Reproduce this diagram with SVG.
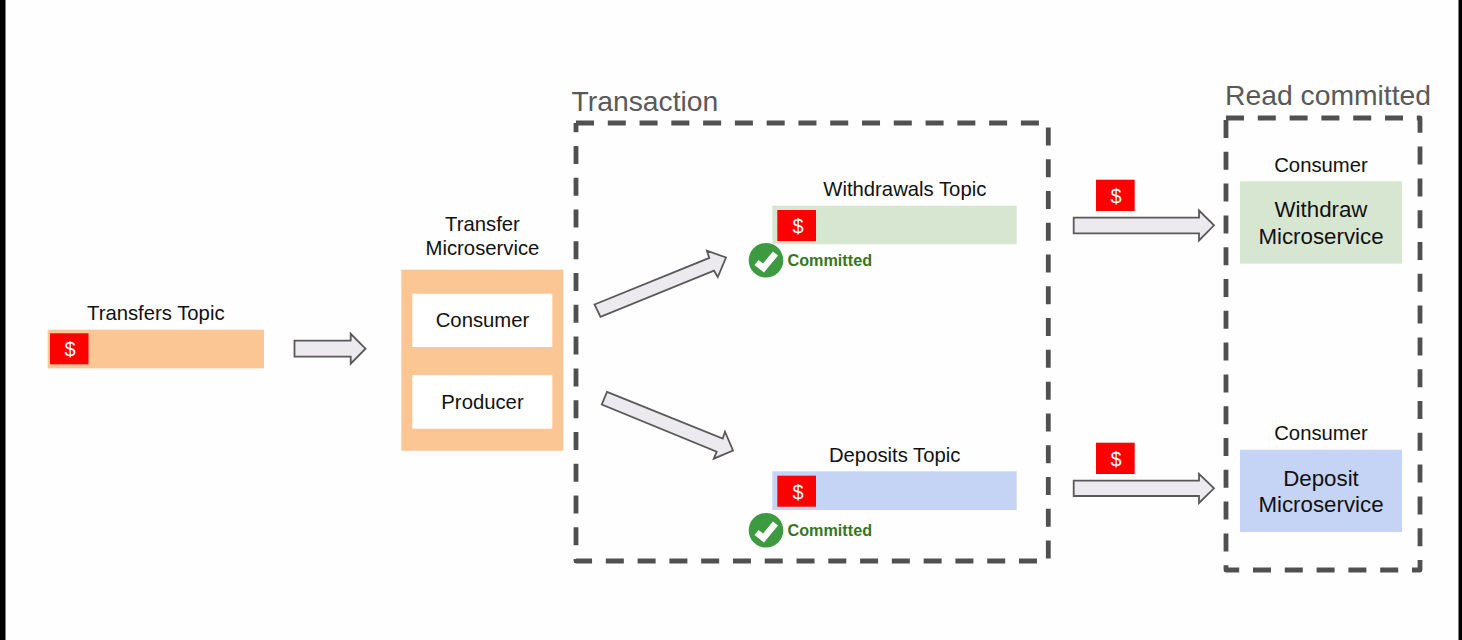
<svg xmlns="http://www.w3.org/2000/svg" width="1462" height="640" viewBox="0 0 1462 640">
<style>
text{font-family:"Liberation Sans",Arial,sans-serif;fill:#111;font-size:20.3px;text-anchor:middle}
.title{font-size:28.300px;fill:#595959;text-anchor:start}
.big{font-size:22.300px}
.ok{font-size:16.200px;font-weight:bold;fill:#38761d;text-anchor:start}
.usd{fill:#fff;font-size:20px}
.chip{fill:#ff0000}
.dash{fill:none;stroke:#505050;stroke-width:4.800;stroke-linejoin:round}
.arrow{fill:#eceaee;stroke:#595959;stroke-width:1.800;stroke-linejoin:miter}
.orange{fill:#fcc594}.green{fill:#d7e6d1}.blue{fill:#c5d4f5}
.tick{fill:none;stroke:#fff;stroke-width:6.500}
</style>
<rect width="1462" height="640" fill="#fefefe"/>
<rect x="0" y="0" width="5.500" height="640" fill="#000"/>
<rect x="1458.500" y="0" width="3.500" height="640" fill="#000"/>
<g id="transaction-frame">
<path class="dash" stroke-dasharray="18 13.780" d="M576 123H1048.300V561H576V123"/>
<text class="title" x="571.500" y="110.500">Transaction</text>
</g>
<g id="read-committed-frame">
<path class="dash" stroke-dasharray="18 13.800" d="M1226 118H1420V570H1226V118"/>
<text class="title" x="1225" y="105">Read committed</text>
</g>
<g id="transfers-topic">
<text x="155.800" y="320">Transfers Topic</text>
<rect class="orange" x="47.700" y="329.700" width="216.300" height="38.700"/>
<rect class="chip" x="50" y="333.300" width="38.500" height="31"/>
<text class="usd" x="70" y="356">$</text>
</g>
<g id="transfer-microservice">
<text x="482.500" y="231">Transfer</text>
<text x="482.500" y="255.300">Microservice</text>
<rect class="orange" x="401.300" y="269.700" width="162" height="181"/>
<rect fill="#fff" x="412.300" y="293.700" width="140" height="53.300"/>
<text x="482.500" y="327">Consumer</text>
<rect fill="#fff" x="412.300" y="375" width="140" height="53.700"/>
<text x="482.500" y="408.500">Producer</text>
</g>
<g id="withdrawals-topic">
<text x="904.800" y="196">Withdrawals Topic</text>
<rect class="green" x="772.300" y="205.700" width="244.400" height="38.600"/>
<rect class="chip" x="777.300" y="210" width="38.700" height="31"/>
<text class="usd" x="798" y="233">$</text>
<circle cx="766" cy="260.300" r="17.300" fill="#3d9a40"/>
<path class="tick" d="M756.500 262.500L763.500 268L775.500 253.500"/>
<text class="ok" x="787.500" y="266">Committed</text>
</g>
<g id="deposits-topic">
<text x="894.700" y="462">Deposits Topic</text>
<rect class="blue" x="772.300" y="471.300" width="244.400" height="38.700"/>
<rect class="chip" x="777.300" y="475.700" width="38.700" height="31"/>
<text class="usd" x="798" y="498.500">$</text>
<circle cx="766" cy="530.300" r="17.300" fill="#3d9a40"/>
<path class="tick" d="M756.500 532.500L763.500 538L775.500 523.500"/>
<text class="ok" x="787.500" y="536">Committed</text>
</g>
<g id="withdraw-microservice">
<text x="1321" y="171.500">Consumer</text>
<rect class="green" x="1240" y="181.300" width="162" height="82.400"/>
<text class="big" x="1321" y="217">Withdraw</text>
<text class="big" x="1321" y="243.500">Microservice</text>
</g>
<g id="deposit-microservice">
<text x="1321" y="440">Consumer</text>
<rect class="blue" x="1240" y="449.700" width="162" height="82.300"/>
<text class="big" x="1321" y="485.500">Deposit</text>
<text class="big" x="1321" y="512">Microservice</text>
</g>
<g id="chip-withdraw">
<rect class="chip" x="1096" y="179.700" width="38.700" height="31.300"/>
<text class="usd" x="1116" y="203">$</text>
</g>
<g id="chip-deposit">
<rect class="chip" x="1096" y="442.700" width="38.700" height="31.300"/>
<text class="usd" x="1116" y="466">$</text>
</g>
<g id="connectors">
<polygon class="arrow" points="294.500,340.700 350.700,340.700 350.700,333.800 365.500,348.700 350.700,363.700 350.700,356.700 294.500,356.700"/>
<polygon class="arrow" points="594.500,304.500 709.300,257.900 706.900,250.700 726,257.500 717.800,277 714,270.700 600.500,316.800"/>
<polygon class="arrow" points="607,391.800 722.700,438.600 725,431.700 733,450.500 713.800,458.700 716.700,451.700 601.800,404.500"/>
<polygon class="arrow" points="1073.700,217.700 1199,217.700 1199,210.500 1214,225.300 1199,240.500 1199,233.300 1073.700,233.300"/>
<polygon class="arrow" points="1073.700,480.700 1199,480.700 1199,473.800 1214,488.300 1199,503 1199,496 1073.700,496"/>
</g>
</svg>
